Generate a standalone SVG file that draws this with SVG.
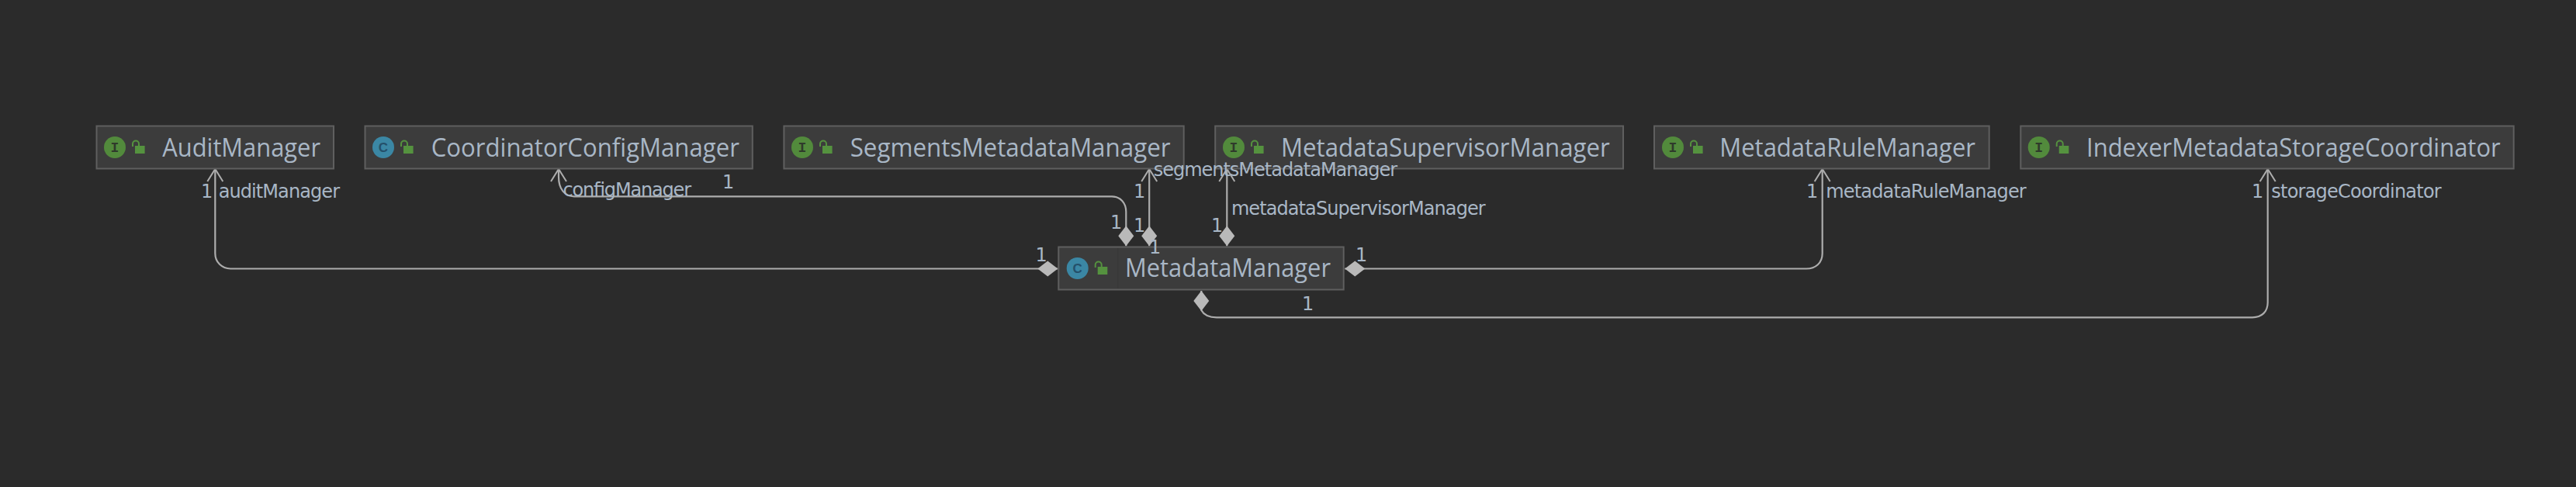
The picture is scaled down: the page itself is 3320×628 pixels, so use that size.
<svg xmlns="http://www.w3.org/2000/svg" xmlns:xlink="http://www.w3.org/1999/xlink" width="3320" height="628" viewBox="0 0 3320 628">
<style>
.box{fill:#3c3c3c;stroke:#5f5f5f;stroke-width:2}
.title{font:33px "Open Sans",sans-serif;fill:#a9b7c6}
.lbl{font:24px "DejaVu Sans",sans-serif;fill:#a9b7c6}
.edge{fill:none;stroke:#adadad;stroke-width:2.2;marker-start:url(#dia);marker-end:url(#arr)}
.ci{fill:#528a3c}.cc{fill:#3b87a4}
.gi{font:bold 18px "Liberation Mono",monospace;fill:#2f3a2b;text-anchor:middle}
.gc{font:bold 17px "Liberation Sans",sans-serif;fill:#24506a;text-anchor:middle}
.lb{fill:#55923f}.ls{fill:none;stroke:#55923f;stroke-width:2}
</style>
<defs>
<marker id="dia" markerUnits="userSpaceOnUse" markerWidth="28" markerHeight="24" refX="0" refY="0" orient="auto" overflow="visible"><path d="M0,0L13,-10L26,0L13,10Z" fill="#b9b9b9"/></marker>
<marker id="arr" markerUnits="userSpaceOnUse" markerWidth="20" markerHeight="24" refX="0" refY="0" orient="auto" overflow="visible"><path d="M-16,-10L0,0L-16,10" fill="none" stroke="#adadad" stroke-width="2"/></marker>
<g id="lock"><rect class="lb" x="26" y="-2" width="12.6" height="10"/><path class="ls" d="M23,-1V-4.5a4,4 0 0 1 8,0V-2"/></g>
</defs>
<rect width="3320" height="628" fill="#2b2b2b"/>
<g id="connectors">
<path class="edge" d="M1363.3,346.5H297C286,346.5 277.3,338 277.3,326.7V218"/>
<path class="edge" d="M1451.3,317.3V273C1451.3,262 1444,253.3 1433,253.3H740C728,253.3 720,244 720,228V218"/>
<path class="edge" d="M1481.2,317.3V218"/>
<path class="edge" d="M1581.3,317.3V218"/>
<path class="edge" d="M1733.3,346.5H2328C2340,346.5 2348.7,339 2348.7,326.7V218"/>
<path class="edge" d="M1548.3,375V400C1552,407 1558,409.3 1568,409.3H2903C2915,409.3 2922.7,402 2922.7,390V218"/>
</g>
<g id="AuditManager"><rect class="box" x="124.5" y="162.5" width="305.5" height="55"/><circle class="ci" cx="148" cy="190" r="14"/><text class="gi" x="148" y="196">I</text><use xlink:href="#lock" href="#lock" x="148" y="190"/><text class="title" x="209.3" y="201.7" textLength="203.7" lengthAdjust="spacingAndGlyphs">AuditManager</text></g>
<g id="CoordinatorConfigManager"><rect class="box" x="470.5" y="162.5" width="499.3" height="55"/><circle class="cc" cx="494" cy="190" r="14"/><text class="gc" x="494" y="196">C</text><use xlink:href="#lock" href="#lock" x="494" y="190"/><text class="title" x="555.7" y="201.7" textLength="397.2" lengthAdjust="spacingAndGlyphs">CoordinatorConfigManager</text></g>
<g id="SegmentsMetadataManager"><rect class="box" x="1010.4" y="162.5" width="515.3" height="55"/><circle class="ci" cx="1034" cy="190" r="14"/><text class="gi" x="1034" y="196">I</text><use xlink:href="#lock" href="#lock" x="1034" y="190"/><text class="title" x="1095.7" y="201.7" textLength="412.9" lengthAdjust="spacingAndGlyphs">SegmentsMetadataManager</text></g>
<g id="MetadataSupervisorManager"><rect class="box" x="1566.2" y="162.5" width="525.8" height="55"/><circle class="ci" cx="1590" cy="190" r="14"/><text class="gi" x="1590" y="196">I</text><use xlink:href="#lock" href="#lock" x="1590" y="190"/><text class="title" x="1651" y="201.7" textLength="423.8" lengthAdjust="spacingAndGlyphs">MetadataSupervisorManager</text></g>
<g id="MetadataRuleManager"><rect class="box" x="2132" y="162.5" width="431.7" height="55"/><circle class="ci" cx="2156" cy="190" r="14"/><text class="gi" x="2156" y="196">I</text><use xlink:href="#lock" href="#lock" x="2156" y="190"/><text class="title" x="2216.3" y="201.7" textLength="329.7" lengthAdjust="spacingAndGlyphs">MetadataRuleManager</text></g>
<g id="IndexerMetadataStorageCoordinator"><rect class="box" x="2604.3" y="162.5" width="635.4" height="55"/><circle class="ci" cx="2627.7" cy="190" r="14"/><text class="gi" x="2627.7" y="196">I</text><use xlink:href="#lock" href="#lock" x="2627.7" y="190"/><text class="title" x="2689" y="201.7" textLength="533.7" lengthAdjust="spacingAndGlyphs">IndexerMetadataStorageCoordinator</text></g>
<g id="MetadataManager"><rect class="box" x="1364.3" y="318.5" width="367.4" height="55"/><path d="M1440.7,320V372" stroke="#393939" stroke-width="1.5"/><circle class="cc" cx="1388.7" cy="346" r="14"/><text class="gc" x="1388.7" y="352">C</text><use xlink:href="#lock" href="#lock" x="1388.7" y="346"/><text class="title" x="1450" y="357.3" textLength="265" lengthAdjust="spacingAndGlyphs">MetadataManager</text></g>
<g id="labels">
<text class="lbl" x="259" y="255">1</text>
<text class="lbl" x="281.7" y="255" textLength="156.3">auditManager</text>
<text class="lbl" x="725.4" y="253.3" textLength="165.6">configManager</text>
<text class="lbl" x="931" y="243.3">1</text>
<text class="lbl" x="1486.7" y="226.7" textLength="314.3">segmentsMetadataManager</text>
<text class="lbl" x="1461" y="255">1</text>
<text class="lbl" x="1431" y="295">1</text>
<text class="lbl" x="1461" y="299">1</text>
<text class="lbl" x="1561" y="299">1</text>
<text class="lbl" x="1481" y="326.7">1</text>
<text class="lbl" x="1586.9" y="276.7" textLength="327.8">metadataSupervisorManager</text>
<text class="lbl" x="1334.5" y="336.7">1</text>
<text class="lbl" x="1747" y="336.7">1</text>
<text class="lbl" x="1678" y="400">1</text>
<text class="lbl" x="2328" y="255">1</text>
<text class="lbl" x="2353.3" y="255" textLength="258.4">metadataRuleManager</text>
<text class="lbl" x="2902" y="255">1</text>
<text class="lbl" x="2927.3" y="255" textLength="219.4">storageCoordinator</text>
</g>
</svg>
